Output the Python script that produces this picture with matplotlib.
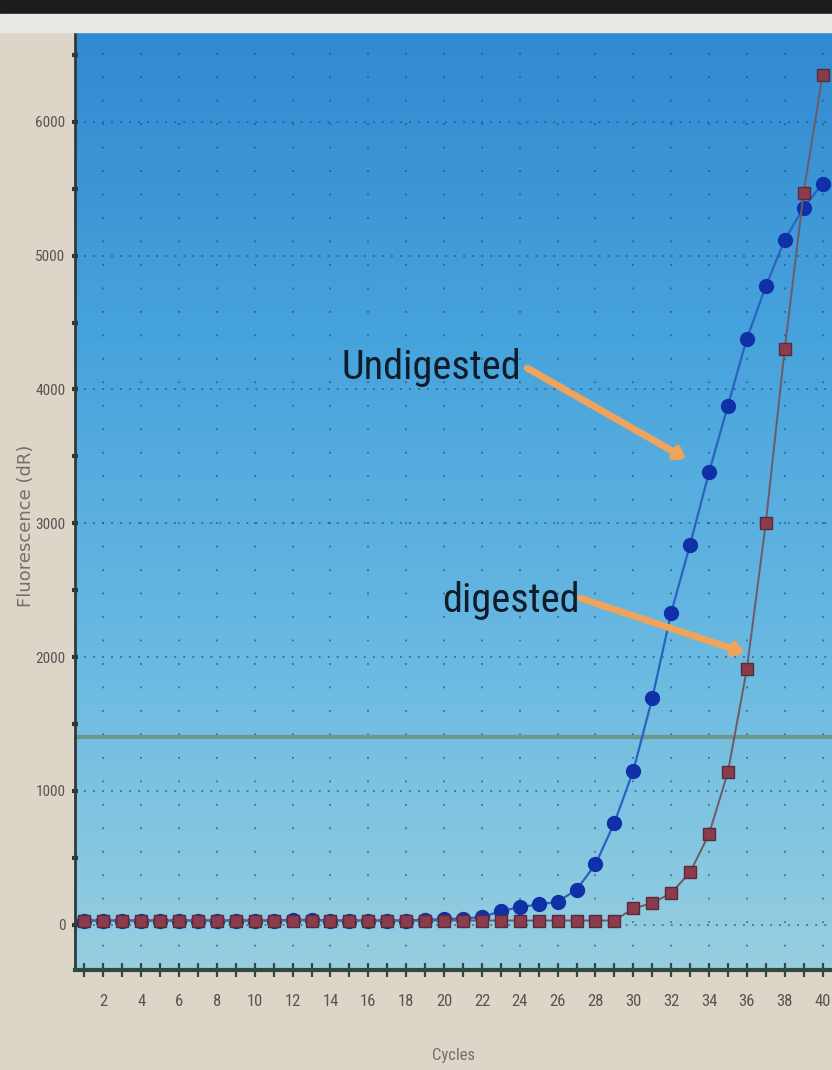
import numpy as np
import matplotlib
matplotlib.use('Agg')
import matplotlib.pyplot as plt
from matplotlib.patches import Rectangle
from matplotlib.colors import LinearSegmentedColormap

# qPCR amplification data
cycles = list(range(1, 41))
undigested = [30, 30, 30, 30, 30, 30, 30, 30, 30, 30,
              30, 35, 35, 30, 30, 30, 30, 30, 35, 40,
              45, 55, 100, 130, 150, 170, 260, 450, 760, 1150,
              1690, 2330, 2840, 3380, 3880, 4380, 4770, 5120, 5360, 5540]
digested = [30, 30, 30, 30, 30, 30, 30, 30, 30, 30,
            30, 30, 30, 30, 30, 30, 30, 30, 30, 30,
            30, 30, 30, 30, 30, 30, 30, 30, 30, 120,
            160, 235, 390, 675, 1140, 1910, 3000, 4300, 5470, 6350]
threshold = 1400
y_ticks = [0, 1000, 2000, 3000, 4000, 5000, 6000]
x_ticks = list(range(2, 41, 2))

narrow = ['Roboto Condensed', 'Liberation Sans Narrow', 'Roboto', 'DejaVu Sans']

fig = plt.figure(figsize=(8.32, 10.7), dpi=100)
fig.patch.set_facecolor('#ddd6c8')
# monitor bezel / bright strip at top of photo
fig.patches.append(Rectangle((0, 0.987), 1, 0.013, transform=fig.transFigure,
                             color='#1c1c1c', zorder=0))
fig.patches.append(Rectangle((0, 0.97), 1, 0.017, transform=fig.transFigure,
                             color='#e9e8e2', zorder=0))

ax = fig.add_axes([75 / 832, 1 - 970 / 1070, 1 - 75 / 832, (970 - 25) / 1070])
x0, x1 = 0.5, 40.5
ax.set_xlim(x0, x1)
ax.set_ylim(-340, 6725)

# blue gradient screen background (dark at top, pale cyan at bottom)
cmap = LinearSegmentedColormap.from_list('bg', ['#3189d0', '#47a3dc', '#69b9e2', '#97cfe0'])
grad = np.linspace(0, 1, 256).reshape(-1, 1)
ax.imshow(grad, cmap=cmap, aspect='auto', extent=[x0, x1, -340, 6725],
          zorder=0, origin='upper')

# dotted grid
for x in x_ticks:
    ax.axvline(x, color='#1e4f7a', lw=1.3, ls=(0, (1, 12)), alpha=0.7, zorder=1)
for y in y_ticks:
    ax.axhline(y, color='#1e4f7a', lw=1.3, ls=(0, (1, 4)), alpha=0.7, zorder=1)

ax.axhline(threshold, color='#6f958c', lw=3, zorder=2)

ax.plot(cycles, undigested, color='#2a62c0', lw=1.6, marker='o', ms=10,
        mfc='#1030a8', mec='#1030a8', zorder=4)
ax.plot(cycles, digested, color='#6e5a66', lw=1.4, marker='s', ms=9,
        mfc='#8a3c4c', mec='#5a2a3a', zorder=5)

# annotations
arrow = dict(arrowstyle='-|>,head_length=0.5,head_width=0.35',
             color='#f0a35a', lw=5, shrinkA=0, shrinkB=0)
ax.annotate('', xy=(32.8, 3480), xytext=(24.4, 4160), arrowprops=arrow, zorder=6)
ax.text(14.6, 4080, 'Undigested', fontsize=29, color='#0f1c2a',
        family=narrow, ha='left', va='baseline', zorder=6)
ax.annotate('', xy=(35.9, 2030), xytext=(27.2, 2440), arrowprops=arrow, zorder=6)
ax.text(19.9, 2340, 'digested', fontsize=29, color='#0f1c2a',
        family=narrow, ha='left', va='baseline', zorder=6)

# axes styling
for s in ['top', 'right']:
    ax.spines[s].set_visible(False)
ax.spines['left'].set_color('#2e3a3a')
ax.spines['left'].set_linewidth(2)
ax.spines['bottom'].set_color('#2f4a40')
ax.spines['bottom'].set_linewidth(3)

ax.set_xticks(range(1, 41), minor=True)
ax.set_xticks(x_ticks)
ax.set_xticklabels([str(x) for x in x_ticks], family=narrow, fontsize=12, color='#555555')
ax.tick_params(axis='x', which='both', direction='inout', length=10, width=1.6,
               color='#2f4a40', pad=12)
ax.set_yticks(y_ticks)
ax.set_yticks(range(500, 6600, 1000), minor=True)
ax.set_yticklabels([str(y) for y in y_ticks], family=narrow, fontsize=11, color='#555555')
ax.tick_params(axis='y', which='both', direction='inout', length=4, width=3,
               color='#2e3a3a', pad=5)

ax.set_xlabel('Cycles', family=narrow, fontsize=12, color='#707070')
ax.xaxis.set_label_coords(0.5, -78 / 945)
ax.set_ylabel('Fluorescence (dR)', fontsize=13, color='#707070')
ax.yaxis.set_label_coords(-40 / 757, 0.47)

fig.savefig('out.png', dpi=100, facecolor=fig.get_facecolor())
